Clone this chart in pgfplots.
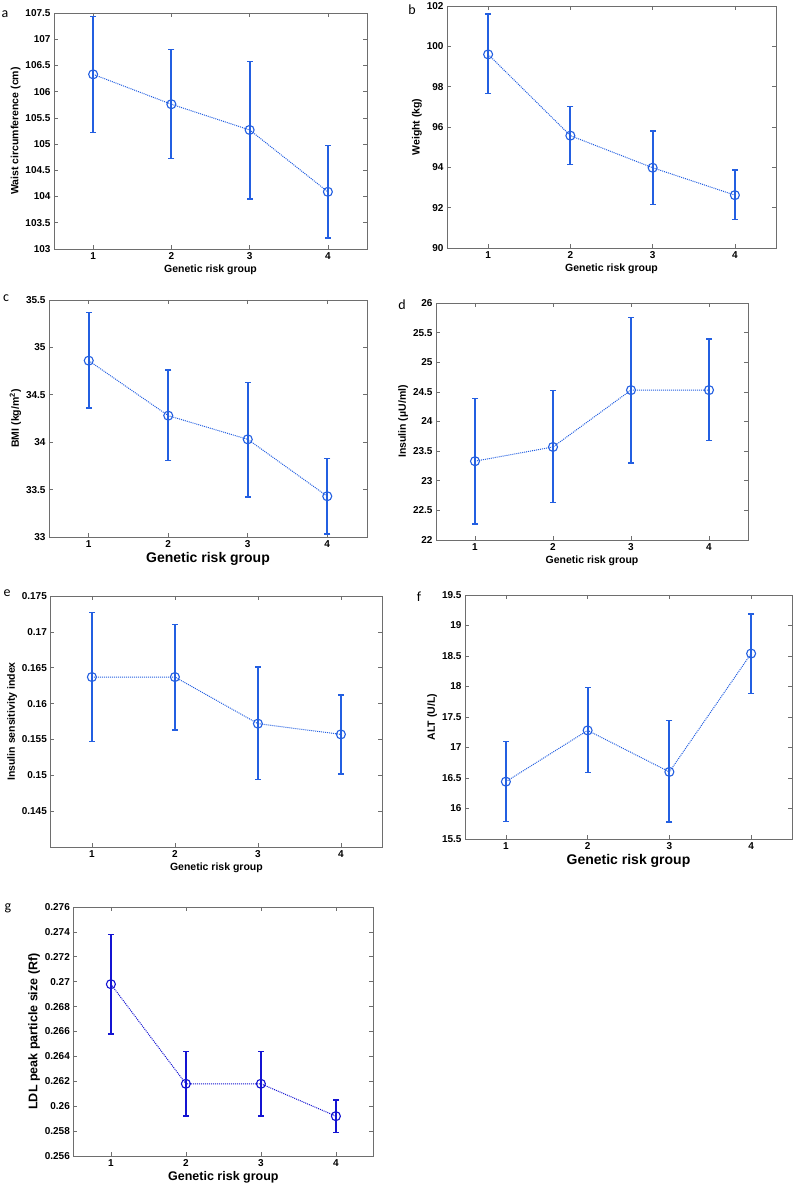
\documentclass[border=0pt]{standalone}
\usepackage{pgfplots}
\usepackage{fontspec}
\setmainfont{Liberation Sans}
\newfontfamily\letterfont{Carlito}
\pgfplotsset{compat=1.18}
\definecolor{mblue}{RGB}{35,95,225}
\definecolor{gblue}{RGB}{20,20,210}
\definecolor{boxgray}{RGB}{110,110,110}

\pgfplotsset{
  panel/.style={
    scale only axis, anchor=south west,
    xmin=0.5, xmax=4.5, xtick={1,2,3,4},
    xtick pos=both, ytick pos=both, tick align=inside,
    major tick length=4pt,
    axis line style={boxgray, line width=0.9pt},
    tick style={boxgray, line width=0.6pt},
    scaled y ticks=false,
    unbounded coords=jump,
    /pgf/number format/assume math mode=true,
    /pgf/number format/fixed, /pgf/number format/precision=3,
    ticklabel style={font=\bfseries\fontsize{10}{12}\selectfont},
    label style={font=\bfseries\fontsize{10.5}{12}\selectfont},
    xlabel={Genetic risk group},
    xlabel style={yshift=2pt},
    ylabel style={yshift=-2pt},
  },
  % error bars: low and high end of each bar, bars split by nan
  bars/.style={
    draw=#1, solid, line width=2pt,
    mark=-, mark size=3pt, mark options={solid, line width=1.4pt, draw=#1},
  },
  % dotted line with open circles
  series/.style={
    draw=#1, densely dotted, line width=1pt,
    mark=o, mark size=4.5pt, mark options={solid, line width=1.1pt, draw=#1, fill=none},
  },
}

\begin{document}
\begin{tikzpicture}
\path[use as bounding box] (0,0) rectangle (799pt,1196pt);

% a
\begin{axis}[panel, at={(54pt,947pt)}, width=313pt, height=236pt,
  ymin=103, ymax=107.5, ytick={103,103.5,...,107.5},
  ylabel={Waist circumference (cm)}]
\addplot[bars=mblue] coordinates {
  (1,105.22) (1,107.43) (1,nan)
  (2,104.73) (2,106.80) (2,nan)
  (3,103.95) (3,106.58) (3,nan)
  (4,103.21) (4,104.97)
};
\addplot[series=mblue] coordinates {(1,106.33) (2,105.76) (3,105.27) (4,104.09)};
\end{axis}

% b
\begin{axis}[panel, at={(447pt,948pt)}, width=329pt, height=242pt,
  ymin=90, ymax=102, ytick={90,92,...,102},
  ylabel={Weight (kg)}]
\addplot[bars=mblue] coordinates {
  (1,97.65) (1,101.60) (1,nan)
  (2,94.15) (2,97.02) (2,nan)
  (3,92.15) (3,95.80) (3,nan)
  (4,91.42) (4,93.87)
};
\addplot[series=mblue] coordinates {(1,99.60) (2,95.57) (3,93.98) (4,92.62)};
\end{axis}

% c
\begin{axis}[panel, at={(49pt,659pt)}, width=318pt, height=237pt,
  ymin=33, ymax=35.5, ytick={33,33.5,...,35.5},
  xlabel style={font=\bfseries\fontsize{14}{16}\selectfont},
  ylabel={BMI (kg/m\textsuperscript{2})}]
\addplot[bars=mblue] coordinates {
  (1,34.36) (1,35.37) (1,nan)
  (2,33.81) (2,34.76) (2,nan)
  (3,33.42) (3,34.63) (3,nan)
  (4,33.03) (4,33.83)
};
\addplot[series=mblue] coordinates {(1,34.86) (2,34.28) (3,34.03) (4,33.43)};
\end{axis}

% d
\begin{axis}[panel, at={(436pt,656pt)}, width=312pt, height=237pt,
  ymin=22, ymax=26, ytick={22,22.5,...,26},
  ylabel={Insulin (\textmu U/ml)}]
\addplot[bars=mblue] coordinates {
  (1,22.27) (1,24.39) (1,nan)
  (2,22.63) (2,24.52) (2,nan)
  (3,23.30) (3,25.76) (3,nan)
  (4,23.68) (4,25.39)
};
\addplot[series=mblue] coordinates {(1,23.33) (2,23.57) (3,24.53) (4,24.53)};
\end{axis}

% e
\begin{axis}[panel, at={(50.4pt,349pt)}, width=332pt, height=251pt,
  ymin=0.14, ymax=0.175, ytick={0.145,0.15,0.155,0.16,0.165,0.17,0.175},
  ylabel={Insulin sensitivity index}]
\addplot[bars=mblue] coordinates {
  (1,0.1547) (1,0.1727) (1,nan)
  (2,0.1563) (2,0.1710) (2,nan)
  (3,0.1494) (3,0.1651) (3,nan)
  (4,0.1502) (4,0.1612)
};
\addplot[series=mblue] coordinates {(1,0.1637) (2,0.1637) (3,0.1572) (4,0.1557)};
\end{axis}

% f
\begin{axis}[panel, at={(465pt,357pt)}, width=327pt, height=244pt,
  ymin=15.5, ymax=19.5, ytick={15.5,16,...,19.5},
  xlabel style={font=\bfseries\fontsize{14}{16}\selectfont},
  ylabel={ALT (U/L)}]
\addplot[bars=mblue] coordinates {
  (1,15.79) (1,17.10) (1,nan)
  (2,16.59) (2,17.98) (2,nan)
  (3,15.78) (3,17.44) (3,nan)
  (4,17.89) (4,19.19)
};
\addplot[series=mblue] coordinates {(1,16.44) (2,17.28) (3,16.60) (4,18.54)};
\end{axis}

% g
\begin{axis}[panel, at={(73.4pt,40pt)}, width=300pt, height=249pt,
  ymin=0.256, ymax=0.276, ytick={0.256,0.258,...,0.276},
  xlabel style={font=\bfseries\fontsize{12.5}{14}\selectfont},
  ylabel style={font=\bfseries\fontsize{12.5}{14}\selectfont},
  ylabel={LDL peak particle size (Rf)}]
\addplot[bars=gblue] coordinates {
  (1,0.2658) (1,0.2738) (1,nan)
  (2,0.2592) (2,0.2644) (2,nan)
  (3,0.2592) (3,0.2644) (3,nan)
  (4,0.2579) (4,0.2605)
};
\addplot[series=gblue] coordinates {(1,0.2698) (2,0.2618) (3,0.2618) (4,0.2592)};
\end{axis}

% panel letters
\begin{scope}[every node/.style={font=\letterfont\fontsize{14}{16}\selectfont, inner sep=0pt}]
\node at (5pt,1182pt) {a};
\node at (412pt,1186pt) {b};
\node at (6pt,898pt) {c};
\node at (402pt,891pt) {d};
\node at (7pt,603pt) {e};
\node at (419pt,599pt) {f};
\node at (8pt,288pt) {g};
\end{scope}
\end{tikzpicture}
\end{document}
